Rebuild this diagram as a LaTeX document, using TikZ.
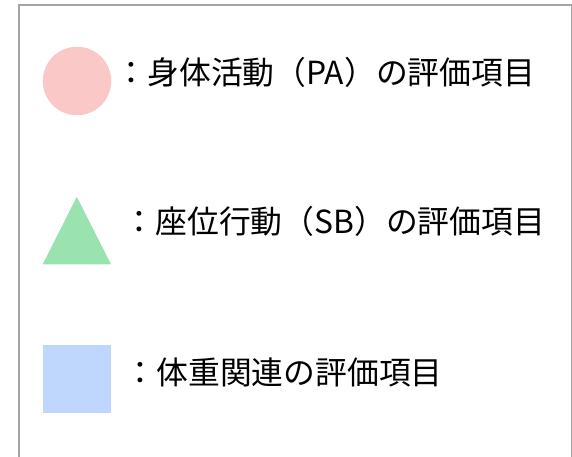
\documentclass[tikz,border=0pt]{standalone}
\usepackage{fontspec}
\setmainfont{Noto Sans CJK JP}
\definecolor{pacol}{HTML}{FAC8C6}
\definecolor{sbcol}{HTML}{9AE2B0}
\definecolor{wtcol}{HTML}{C0D7FD}
\definecolor{framecol}{HTML}{A4A4A4}
\begin{document}
\begin{tikzpicture}[x=1pt,y=-1pt,
  legendtext/.style={anchor=west, inner sep=0pt, font=\fontsize{31.8}{31.8}\selectfont,
    text height=0.88em, text depth=0.12em}]
\useasboundingbox (0,0) rectangle (572,457);
\node[draw=framecol, line width=2.2pt, minimum width=553pt, minimum height=452.5pt, inner sep=0pt,
  anchor=north west] (frame) at (17.5,4) {};
\node[circle, fill=pacol, minimum size=68.5pt, inner sep=0pt] (pa) at (77,81) {};
\fill[sbcol] (42.7,264.3) -- (76.8,196.7) -- (111,264.3) -- cycle;
\coordinate (sb) at (76.8,230);
\node[fill=wtcol, minimum width=68.3pt, minimum height=67.7pt, inner sep=0pt] (wt) at (76.85,378.85) {};
\node[legendtext] (patext) at (115.5,80.5) {：身体活動（PA）の評価項目};
\node[legendtext] (sbtext) at (123.5,230) {：座位行動（SB）の評価項目};
\node[legendtext] (wttext) at (124.5,381) {：体重関連の評価項目};
\end{tikzpicture}
\end{document}
